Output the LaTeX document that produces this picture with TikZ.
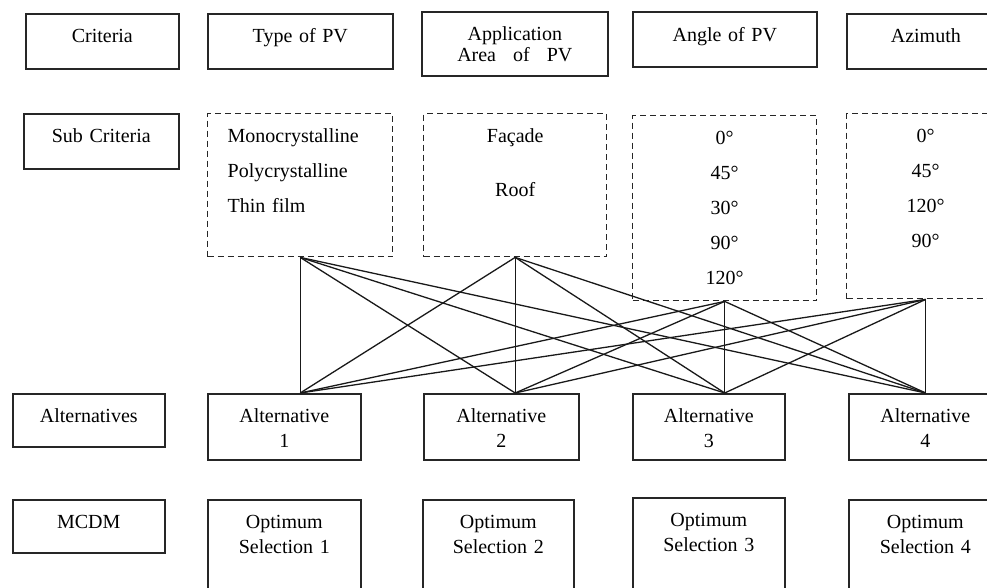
\documentclass[tikz,border=0pt]{standalone}
\usepackage{fontspec}
\setmainfont{Liberation Serif}

\begin{document}
\begin{tikzpicture}[x=1pt,y=-1pt]
      \tikzset { box/.style = { draw=black!85, line width=1.6pt, anchor=north west, inner xsep=4pt, inner ysep=0pt,
                                align=center, text height=29pt, font=\fontsize{20}{25}\selectfont } }
      \tikzset { subbox/.style = { box, dash pattern=on 6pt off 4pt, line width=1.4pt } }
      \tikzset { edge/.style = { draw=black!90, line width=1.3pt } }

      \useasboundingbox (0,0) rectangle (987,588);
      \clip (0,0) rectangle (987,588);

      % criteria
      \node[box, text width=145pt, text depth=26pt] (crit) at (25,13) {Criteria};
      \node[box, text width=177pt, text depth=26pt] (type) at (207,13) {Type of PV};
      \node[box, text width=178pt, text depth=35pt] (area) at (421,11) {Application\\[-4pt]Area\hspace{0.85em}of\hspace{0.85em}PV};
      \node[box, text width=176pt, text depth=25pt, text height=30pt] (angle) at (632,11) {Angle of PV};
      \node[box, text width=150pt, text depth=26pt] (azim) at (846,13) {Azimuth};

      % sub criteria
      \node[box, text width=147pt, text depth=26pt] (subcrit) at (23,113) {Sub Criteria};
      \node[subbox, align=left, inner xsep=20pt, text width=145pt, text depth=114pt] (subtype) at (207,113)
            {Monocrystalline\\[10pt]Polycrystalline\\[10pt]Thin film};
      \node[subbox, text width=175pt, text depth=114pt] (subarea) at (423,113) {Façade\\[29pt]Roof};
      \node[subbox, text width=176pt, text depth=156pt] (subangle) at (632,115)
            {0°\\[10pt]45°\\[10pt]30°\\[10pt]90°\\[10pt]120°};
      \node[subbox, text width=150pt, text depth=156pt] (subazim) at (846,113)
            {0°\\[10pt]45°\\[10pt]120°\\[10pt]90°};

      % alternatives
      \node[box, text width=144pt, text depth=24pt] (alts) at (12,393) {Alternatives};
      \node[box, text width=145pt, text depth=37pt] (alt1) at (207,393) {Alternative\\1};
      \node[box, text width=147pt, text depth=37pt] (alt2) at (423,393) {Alternative\\2};
      \node[box, text width=144pt, text depth=37pt] (alt3) at (632,393) {Alternative\\3};
      \node[box, text width=145pt, text depth=37pt] (alt4) at (848,393) {Alternative\\4};

      % mcdm
      \node[box, text width=144pt, text depth=24pt] (mcdm) at (12,499) {MCDM};
      \node[box, text width=145pt, text depth=90pt] (opt1) at (207,499) {Optimum\\Selection 1};
      \node[box, text width=143pt, text depth=90pt] (opt2) at (422,499) {Optimum\\Selection 2};
      \node[box, text width=144pt, text depth=92pt] (opt3) at (632,497) {Optimum\\Selection 3};
      \node[box, text width=145pt, text depth=90pt] (opt4) at (848,499) {Optimum\\Selection 4};

      \draw[edge] (subtype.south) -- (alt1.north -| subtype.south);
      \draw[edge] (subtype.south) -- (alt2.north -| subarea.south);
      \draw[edge] (subtype.south) -- (alt3.north -| subangle.south);
      \draw[edge] (subtype.south) -- (alt4.north -| subazim.south);
      \draw[edge] (subarea.south) -- (alt1.north -| subtype.south);
      \draw[edge] (subarea.south) -- (alt2.north -| subarea.south);
      \draw[edge] (subarea.south) -- (alt3.north -| subangle.south);
      \draw[edge] (subarea.south) -- (alt4.north -| subazim.south);
      \draw[edge] (subangle.south) -- (alt1.north -| subtype.south);
      \draw[edge] (subangle.south) -- (alt2.north -| subarea.south);
      \draw[edge] (subangle.south) -- (alt3.north -| subangle.south);
      \draw[edge] (subangle.south) -- (alt4.north -| subazim.south);
      \draw[edge] (subazim.south) -- (alt1.north -| subtype.south);
      \draw[edge] (subazim.south) -- (alt2.north -| subarea.south);
      \draw[edge] (subazim.south) -- (alt3.north -| subangle.south);
      \draw[edge] (subazim.south) -- (alt4.north -| subazim.south);

\end{tikzpicture}
\end{document}
